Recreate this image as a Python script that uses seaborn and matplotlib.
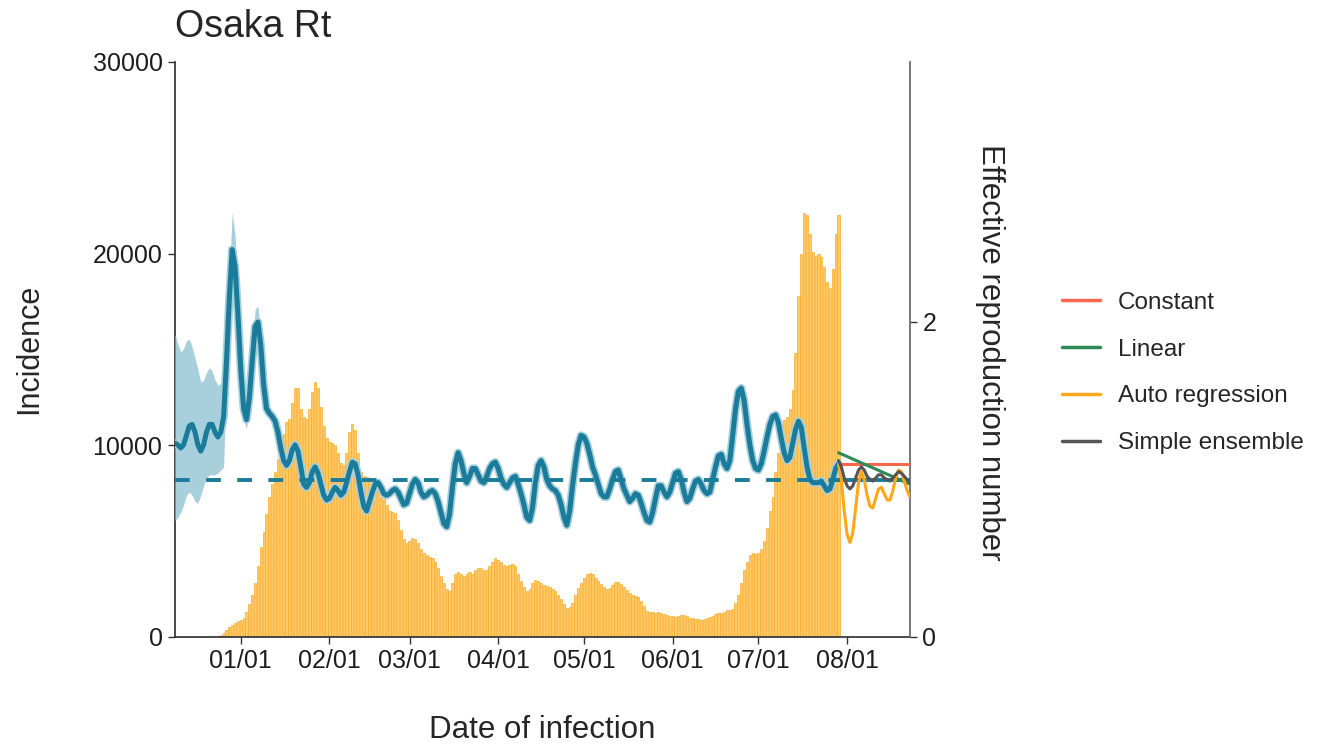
"""
Osaka Rt: incidence by date of infection with Rt estimate and short projections.
"""

import pandas as pd
import numpy as np
import matplotlib
matplotlib.use("Agg")
import matplotlib.pyplot as plt
import matplotlib.dates as mdates
from matplotlib.lines import Line2D
import seaborn as sns

sns.set_theme(style="white")
plt.rcParams['font.family'] = ['Liberation Sans', 'DejaVu Sans']

# ---------------------------------------------------------------------------
# Data
# ---------------------------------------------------------------------------
inc_start = "2021-12-25"
incidence = [
    100, 200, 350, 500, 650, 750, 850,
    900, 1000, 1300, 1700, 2200, 2800, 3700, 4700, 5500, 6400,
    7300, 8000, 8600, 9300, 9900, 10600, 11200, 11400, 12200, 13000,
    13000, 11900, 11500, 11400, 11900, 12800, 13300, 13000, 12000, 11000,
    10400, 10200, 10100, 10000, 9600, 9100, 9000, 9600, 10700, 11100,
    10800, 9600, 8600, 8400, 8350, 8200, 8150, 7900, 7700, 7300,
    7200, 6900, 6600, 6500, 6450, 6100, 5600, 5100, 4900, 5000,
    5150, 5100, 4900, 4600, 4400, 4300, 4200, 4100, 3900, 3600,
    3200, 2800, 2500, 2400, 2800, 3300, 3400, 3300, 3200, 3300,
    3400, 3300, 3500, 3600, 3600, 3500, 3500, 3700, 3900, 4100,
    4000, 3900, 3750, 3700, 3750, 3800, 3700, 3300, 2900, 2600,
    2400, 2500, 2800, 3000, 2900, 2800, 2700, 2650, 2600, 2500,
    2400, 2200, 2000, 1700, 1500, 1550, 1800, 2200, 2550, 2800,
    3100, 3300, 3350, 3300, 3100, 2900, 2750, 2600, 2500, 2550,
    2700, 2850, 2850, 2750, 2600, 2450, 2300, 2200, 2150, 2100,
    1900, 1600, 1350, 1300, 1300, 1250, 1300, 1250, 1200, 1150,
    1100, 1100, 1050, 1100, 1150, 1150, 1100, 1000, 980, 950,
    950, 900, 920, 980, 1050, 1100, 1200, 1250, 1250, 1300,
    1400, 1400, 1450, 1750, 2200, 2800, 3500, 3900, 4300, 4400,
    4350, 4400, 4600, 5000, 5700, 6600, 7300, 8600, 9600, 10600,
    11300, 11500, 11900, 12900, 14800, 17800, 20000, 22100, 22000, 21000,
    20100, 19900, 20000, 19800, 19300, 18500, 18200, 19200, 21000, 22000,
]

rt_start = "2021-12-09"
rt = [
    1.23, 1.22, 1.20, 1.22, 1.28, 1.34, 1.35, 1.30, 1.22, 1.18,
    1.22, 1.30, 1.35, 1.35, 1.30, 1.27, 1.30, 1.40, 1.75, 2.15,
    2.46, 2.35, 2.05, 1.70, 1.45, 1.38, 1.52, 1.75, 1.97, 2.00,
    1.85, 1.60, 1.45, 1.42, 1.40, 1.37, 1.30, 1.20, 1.12, 1.09,
    1.12, 1.19, 1.22, 1.18, 1.08, 0.97, 0.95, 0.98, 1.05, 1.08,
    1.04, 0.97, 0.90, 0.87, 0.88, 0.92, 0.95, 0.93, 0.90, 0.92,
    0.98, 1.05, 1.11, 1.10, 1.03, 0.92, 0.83, 0.80, 0.86, 0.92,
    0.97, 0.98, 0.95, 0.91, 0.90, 0.91, 0.93, 0.94, 0.92, 0.88,
    0.84, 0.85, 0.91, 0.97, 1.00, 0.98, 0.92, 0.89, 0.90, 0.92,
    0.93, 0.91, 0.86, 0.79, 0.72, 0.70, 0.78, 0.95, 1.10, 1.17,
    1.12, 1.04, 0.98, 1.02, 1.07, 1.07, 1.03, 0.99, 0.98, 1.02,
    1.07, 1.10, 1.11, 1.07, 1.01, 0.97, 0.95, 0.98, 1.01, 1.02,
    0.97, 0.91, 0.84, 0.76, 0.74, 0.82, 0.98, 1.09, 1.12, 1.08,
    1.00, 0.96, 0.94, 0.93, 0.90, 0.84, 0.76, 0.71, 0.80, 0.96,
    1.10, 1.22, 1.28, 1.27, 1.23, 1.16, 1.08, 1.03, 0.97, 0.91,
    0.89, 0.89, 0.94, 1.00, 1.05, 1.06, 1.00, 0.94, 0.90, 0.86,
    0.88, 0.91, 0.90, 0.85, 0.79, 0.74, 0.73, 0.79, 0.88, 0.96,
    0.96, 0.92, 0.89, 0.92, 0.98, 1.04, 1.05, 1.00, 0.92, 0.86,
    0.88, 0.94, 0.99, 1.00, 0.97, 0.93, 0.91, 0.92, 1.00, 1.08,
    1.15, 1.16, 1.10, 1.07, 1.12, 1.28, 1.45, 1.56, 1.58, 1.50,
    1.35, 1.22, 1.12, 1.07, 1.06, 1.10, 1.18, 1.27, 1.35, 1.40,
    1.41, 1.36, 1.26, 1.17, 1.12, 1.14, 1.23, 1.32, 1.37, 1.33,
    1.20, 1.08, 1.00, 0.98, 0.98, 0.98, 0.99, 0.96, 0.93, 0.94,
    1.00, 1.07, 1.10,
]

# credible interval, visible only in the early part
ci_start = "2021-12-09"
ci_upper = [
    1.92, 1.86, 1.81, 1.83, 1.88, 1.89, 1.84, 1.77, 1.70, 1.62,
    1.63, 1.68, 1.71, 1.69, 1.63, 1.60, 1.61, 1.62,
    1.86, 2.30, 2.70, 2.55, 2.20, 1.80, 1.52, 1.44, 1.58, 1.82,
    2.08, 2.10, 1.93,
]
ci_lower = [
    0.74, 0.76, 0.79, 0.84, 0.90, 0.92, 0.90, 0.86, 0.85, 0.90,
    0.96, 1.01, 1.03, 1.03, 1.03, 1.04, 1.06, 1.08,
    1.66, 2.02, 2.32, 2.20, 1.92, 1.62, 1.38, 1.32, 1.46, 1.68,
    1.88, 1.92, 1.78,
]

# projections
proj_start = "2022-07-29"
proj_end = "2022-08-23"
const_rt = [1.10, 1.10]
linear_rt = [1.17, 0.97]
tail_rt = [1.0, 1.0]
ar_rt = [
    1.10, 1.00, 0.80, 0.65, 0.60, 0.66, 0.82, 0.98, 1.05, 1.00,
    0.90, 0.83, 0.82, 0.88, 0.94, 0.95, 0.91, 0.87, 0.87, 0.93,
    1.01, 1.06, 1.05, 0.99, 0.93, 0.89,
]
ensemble_rt = [
    1.12, 1.08, 1.01, 0.96, 0.94, 0.96, 1.01, 1.06, 1.08, 1.06,
    1.02, 1.00, 0.99, 1.01, 1.03, 1.03, 1.01, 1.00, 0.99, 1.01,
    1.03, 1.05, 1.04, 1.02, 1.00, 0.98,
]

series_names = ["Constant", "Linear", "Auto regression", "Simple ensemble"]
series_colors = ["#F9684D", "#2E8B57", "#FFA71A", "#555555"]

# ---------------------------------------------------------------------------
teal = "#1A7C9A"
ribbon = "#A7CFDC"

inc_dates = pd.date_range(inc_start, periods=len(incidence))
rt_dates = pd.date_range(rt_start, periods=len(rt))
ci_dates = pd.date_range(ci_start, periods=len(ci_upper))
proj_dates = pd.date_range(proj_start, periods=len(ar_rt))
two_dates = pd.to_datetime([proj_start, proj_end])

W, H = 1320, 749
fig = plt.figure(figsize=(W / 100, H / 100), dpi=100)
ax = fig.add_axes([175 / W, 1 - 637 / H, 735 / W, 575 / H])

ax.bar(inc_dates, incidence, width=0.78, color="#FFC964",
       edgecolor="#F9AC2A", linewidth=0.5, zorder=2)
ax.set_ylim(0, 30000)
ax.set_yticks([0, 10000, 20000, 30000])
ax.set_xlim(pd.Timestamp("2021-12-09"), pd.Timestamp("2022-08-23"))
ax.xaxis.set_major_formatter(mdates.DateFormatter("%m/%d"))
ax.set_xticks(pd.date_range("2022-01-01", "2022-08-01", freq="MS"))

ax2 = ax.twinx()
ax2.set_ylim(0, 575 / 157.5)
ax2.set_yticks([0, 2])

# ribbon + halo for the narrow band
ax2.fill_between(ci_dates, ci_lower, ci_upper, color=ribbon, lw=0, zorder=1)
sns.lineplot(x=rt_dates, y=rt, ax=ax2, color=ribbon, linewidth=6.0, zorder=2)
ax2.axhline(1.0, color=teal, lw=2.8, dashes=(3.8, 4.2), zorder=3)
sns.lineplot(x=rt_dates, y=rt, ax=ax2, color=teal, linewidth=3.6, zorder=4)
sns.lineplot(x=two_dates, y=tail_rt, ax=ax2, color=teal, linewidth=2.8, zorder=4)

sns.lineplot(x=two_dates, y=const_rt, ax=ax2, color=series_colors[0], linewidth=2.2, zorder=5)
sns.lineplot(x=two_dates, y=linear_rt, ax=ax2, color=series_colors[1], linewidth=2.2, zorder=5)
sns.lineplot(x=proj_dates, y=ar_rt, ax=ax2, color=series_colors[2], linewidth=2.2, zorder=5)
sns.lineplot(x=proj_dates, y=ensemble_rt, ax=ax2, color=series_colors[3], linewidth=2.2, zorder=6)
ax2.set_xlim(ax.get_xlim())

for a in (ax, ax2):
    a.set_xlabel("")
    a.set_ylabel("")
    a.grid(False)
    for s in a.spines.values():
        s.set_visible(False)
    a.tick_params(axis="both", labelsize=18, length=5, width=1, pad=4,
                  color="#333333", labelcolor="#1e1e1e", direction="out")
ax.spines["left"].set_visible(True)
ax.spines["bottom"].set_visible(True)
ax2.spines["right"].set_visible(True)
ax.spines["left"].set_color("#333333")
ax.spines["bottom"].set_color("#333333")
ax2.spines["right"].set_color("#666666")
ax.tick_params(axis="y", left=True, right=False)
ax.tick_params(axis="x", bottom=True)
ax2.tick_params(axis="y", right=True, left=False)
ax.set_facecolor("white")
ax2.patch.set_visible(False)

# titles and labels
fig.text(175 / W, 1 - 27 / H, "Osaka Rt", ha="left", va="center", fontsize=27)
fig.text(29 / W, 1 - 349 / H, "Incidence", rotation=90, ha="center", va="center", fontsize=22)
fig.text(990 / W, 1 - 352 / H, "Effective reproduction number", rotation=-90,
         ha="center", va="center", fontsize=22.5)
fig.text(542 / W, 1 - 730 / H, "Date of infection", ha="center", va="center", fontsize=22.5)

handles = [Line2D([0], [0], color=c, lw=2.5) for c in series_colors]
fig.legend(handles, series_names, loc="center left",
           bbox_to_anchor=(1040 / W, 1 - 373 / H), frameon=False,
           fontsize=17.5, handlelength=1.55, handletextpad=0.75, labelspacing=1.02)

fig.savefig("out.png", dpi=100, facecolor="white")
